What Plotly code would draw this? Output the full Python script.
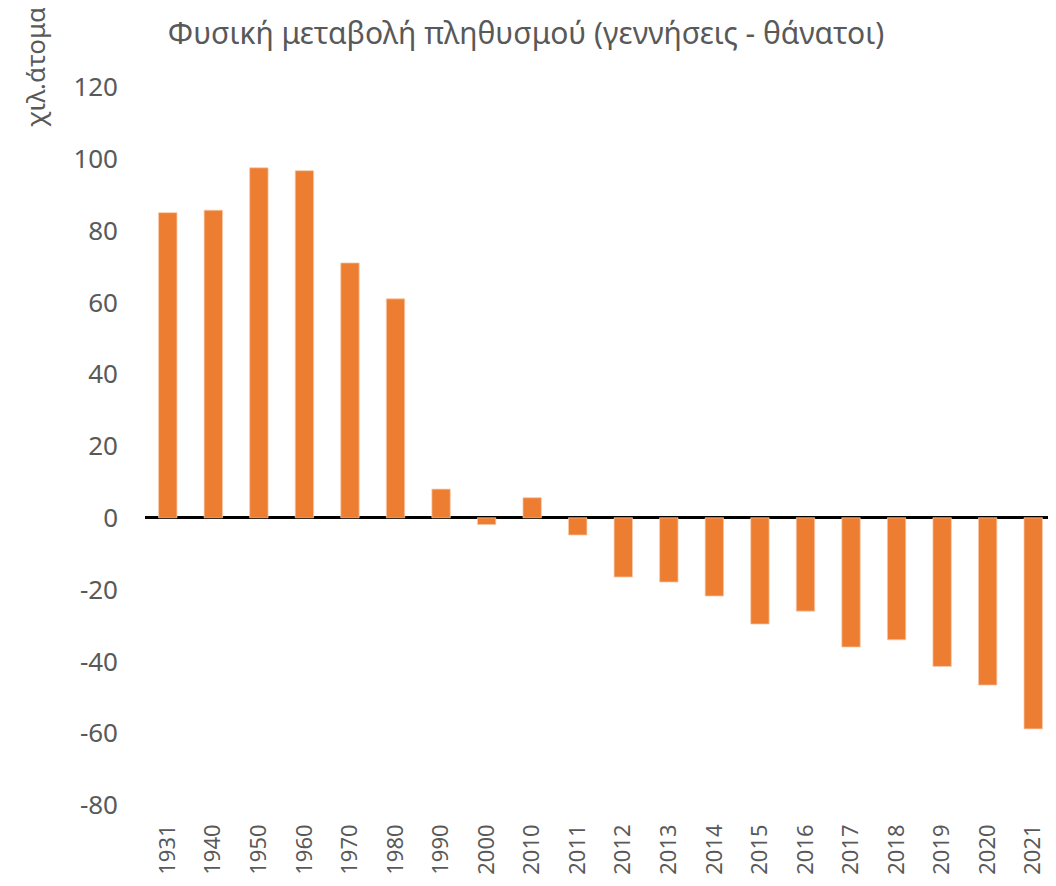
import plotly.graph_objects as go

years = ["1931", "1940", "1950", "1960", "1970", "1980", "1990", "2000", "2010", "2011",
         "2012", "2013", "2014", "2015", "2016", "2017", "2018", "2019", "2020", "2021"]
natural_change = [85.0, 85.7, 97.5, 96.7, 71.0, 61.0, 8.0, -1.9, 5.6, -4.8,
                  -16.5, -17.9, -21.8, -29.6, -26.0, -36.0, -34.0, -41.4, -46.6, -58.8]
y_ticks = [120, 100, 80, 60, 40, 20, 0, -20, -40, -60, -80]

title_text = "Φυσική μεταβολή πληθυσμού (γεννήσεις - θάνατοι)"
y_title = "χιλ.άτομα"

# page has an 8px body margin; figure coordinates are page coordinates minus 8
OFF = 8
W, H = 1056 - OFF, 886 - OFF
L, R, T = 145 - OFF, 0, 87 - OFF
plot_h = 718
B = H - T - plot_h
plot_w = W - L - R
grey = "#595959"
font_family = "Noto Sans, Open Sans, DejaVu Sans, sans-serif"

fig = go.Figure()
fig.add_trace(go.Bar(
    x=years, y=natural_change,
    marker=dict(color="#ED7D31", line=dict(color="#F8CBAD", width=0.75)),
    hoverinfo="x+y",
))

fig.update_layout(
    width=W, height=H,
    margin=dict(l=L, r=R, t=T, b=B, pad=0),
    paper_bgcolor="white", plot_bgcolor="white",
    showlegend=False,
    bargap=0.596,
    font=dict(family=font_family, color=grey),
    title=dict(text=title_text, font=dict(size=30, color=grey, family=font_family),
               xref="container", yref="container",
               x=(526 - OFF) / W, y=1 - (33 - OFF) / H, xanchor="center", yanchor="middle"),
    xaxis=dict(type="category", showgrid=False, showline=False, zeroline=False,
               ticks="", tickangle=-90, tickfont=dict(size=22, color=grey),
               ticklabelstandoff=14),
    yaxis=dict(range=[-80, 120], tickvals=y_ticks, ticktext=[str(v) for v in y_ticks],
               showgrid=False, showline=False, ticks="",
               zeroline=True, zerolinecolor="black", zerolinewidth=2.5,
               tickfont=dict(size=26, color=grey), ticklabelstandoff=26),
    annotations=[dict(text=y_title, textangle=-90, showarrow=False,
                      xref="paper", yref="paper",
                      x=(35 - 145) / plot_w, y=(805 - 67) / plot_h,
                      xanchor="center", yanchor="middle",
                      font=dict(size=26, color=grey, family=font_family))],
)

fig.write_html("out.html")
